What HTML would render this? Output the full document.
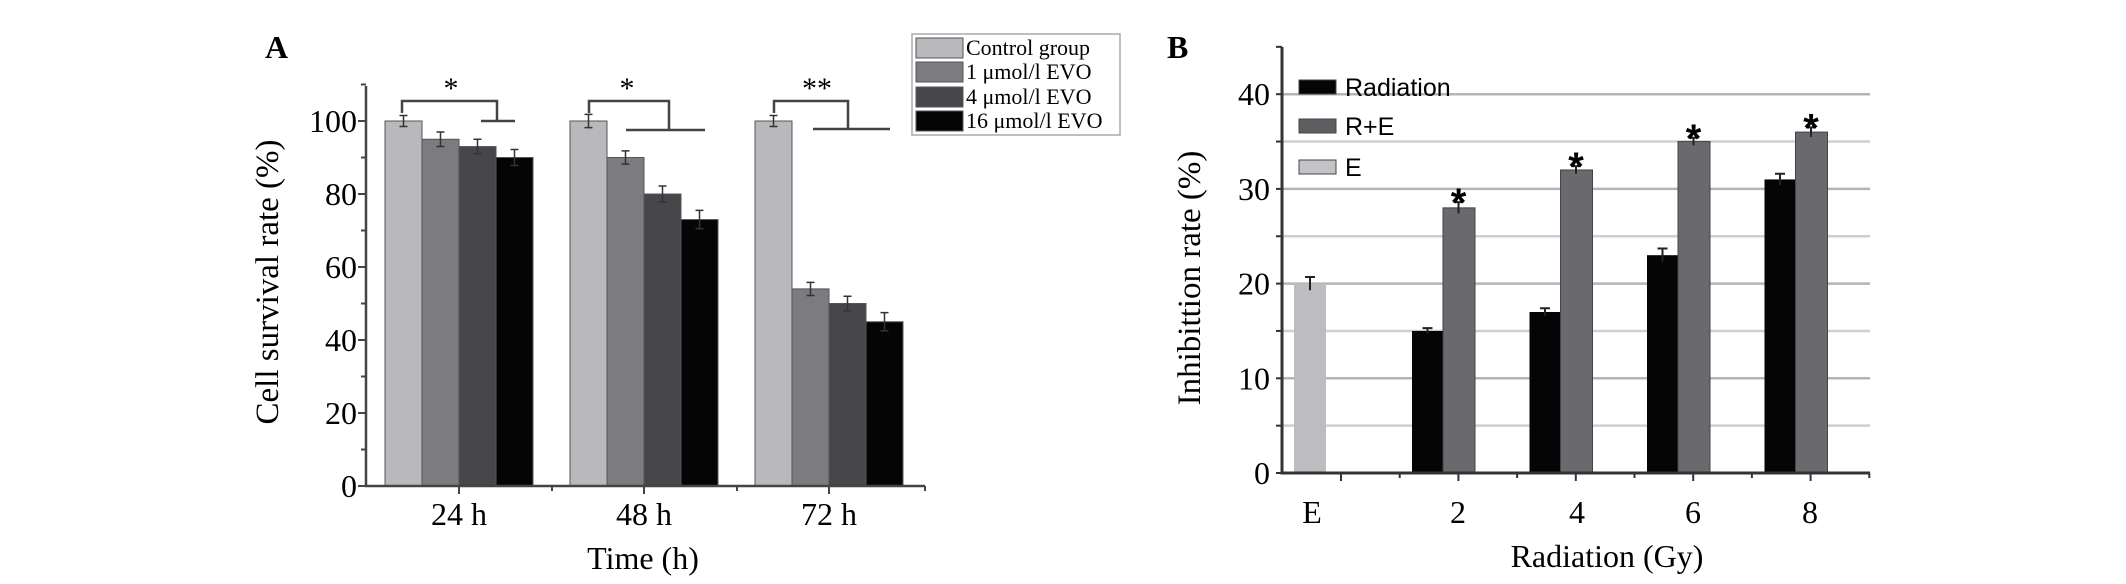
<!DOCTYPE html>
<html><head><meta charset="utf-8">
<style>
body{margin:0;background:#fff;}
svg{display:block;}
.serif{font-family:"Liberation Serif",serif;}
.sans{font-family:"Liberation Sans",sans-serif;}
</style></head>
<body>
<svg id="chart" width="2126" height="584" viewBox="0 0 2126 584" xmlns="http://www.w3.org/2000/svg">
</svg>
<script>
// Panel A data
const aCategories = ["24 h", "48 h", "72 h"];
const aSeriesNames = ["Control group", "1 μmol/l EVO", "4 μmol/l EVO", "16 μmol/l EVO"];
const aControl = [100, 100, 100];
const aEvo1 = [95, 90, 54];
const aEvo4 = [93, 80, 50];
const aEvo16 = [90, 73, 45];
const aErrors = [[1.5, 1.8, 1.5], [2, 1.8, 1.8], [2, 2.2, 2], [2.2, 2.5, 2.5]];
const aTicks = [0, 20, 40, 60, 80, 100];
const aSig = ["*", "*", "**"];
// Panel B data
const bCategories = ["E", "2", "4", "6", "8"];
const bE = [20];
const bRadiation = [15, 17, 23, 31];
const bRE = [28, 32, 35, 36];
const bRadErr = [0.3, 0.4, 0.7, 0.6];
const bREErr = [0.6, 0.4, 0.4, 0.5];
const bEErr = [0.7];
const bTicks = [0, 10, 20, 30, 40];

const svg = document.getElementById('chart');
const NS = 'http://www.w3.org/2000/svg';
function mk(tag, attrs, parent) {
  const e = document.createElementNS(NS, tag);
  for (const k in attrs) e.setAttribute(k, attrs[k]);
  (parent || svg).appendChild(e);
  return e;
}
function txt(s, attrs, parent) { const t = mk('text', attrs, parent); t.textContent = s; return t; }

// ---------- Panel A ----------
const gA = mk('g', {});


const aX0 = 366, aY0 = 486, aY100 = 121, aXEnd = 925, aTop = 86;
const ay = v => aY0 - (v / 100) * (aY0 - aY100);
const aGroupStart = i => 385 + i * 185;
const aBarW = 37;
const aColors = ["#b9b9bd", "#7b7b80", "#47474b", "#050505"];
const aSeries = [aControl, aEvo1, aEvo4, aEvo16];

const pA = txt('A', {x: 265, y: 58, 'font-size': 32, 'font-weight': 'bold', class: 'serif'}, gA);



aSeries.forEach((ser, s) => {
  ser.forEach((v, i) => {
    const x = aGroupStart(i) + s * aBarW;
    const r = mk('rect', {x: x, y: ay(v), width: aBarW, height: aY0 - ay(v), fill: aColors[s], stroke: '#555', 'stroke-width': 1}, gA);
    
    
    const e = aErrors[s][i], cx = x + aBarW / 2;
    const eb = mk('path', {d: `M${cx} ${ay(v + e)}V${ay(v - e)}M${cx - 4} ${ay(v + e)}H${cx + 4}M${cx - 4} ${ay(v - e)}H${cx + 4}`, stroke: '#333', 'stroke-width': 1.5, fill: 'none'}, gA);
    
    
  });
});
const axA = mk('path', {d: `M${aX0} ${aTop}V${aY0}H${aXEnd}`, stroke: '#444', 'stroke-width': 2.5, fill: 'none'}, gA);


for (let v = 0; v <= 110; v += 10) {
  const major = v % 20 === 0;
  mk('line', {x1: aX0 - (major ? 8 : 5), x2: aX0, y1: ay(v), y2: ay(v), stroke: '#444', 'stroke-width': 2}, gA);
}
aTicks.forEach(v => {
  const t = txt(String(v), {x: 357, y: ay(v) + 11, 'font-size': 32, 'text-anchor': 'end', class: 'serif'}, gA);
  
  
});
aCategories.forEach((c, i) => {
  const cx = aGroupStart(i) + 2 * aBarW;
  mk('line', {x1: cx, x2: cx, y1: aY0, y2: aY0 + 8, stroke: '#444', 'stroke-width': 2}, gA);
  if (i < 2) { const mx = aGroupStart(i) + 4 * aBarW + 19; mk('line', {x1: mx, x2: mx, y1: aY0, y2: aY0 + 5, stroke: '#444', 'stroke-width': 2}, gA); }
  const t = txt(c, {x: cx, y: 525, 'font-size': 32, 'text-anchor': 'middle', class: 'serif'}, gA);
  
  
});
mk('line', {x1: aXEnd, x2: aXEnd, y1: aY0, y2: aY0 + 5, stroke: '#444', 'stroke-width': 2}, gA);
const yA = txt('Cell survival rate (%)', {x: 0, y: 0, 'font-size': 33, 'text-anchor': 'middle', class: 'serif', transform: 'translate(278,282) rotate(-90)'}, gA);


const xA = txt('Time (h)', {x: 643, y: 569, 'font-size': 32, 'text-anchor': 'middle', class: 'serif'}, gA);



const brk = [
  {l: 402, r: 497, d: 121, h1: 481, h2: 515, sx: 451},
  {l: 589, r: 669, d: 130, h1: 626, h2: 705, sx: 627},
  {l: 774, r: 848, d: 129, h1: 813, h2: 890, sx: 817}
];
brk.forEach((b, i) => {
  const p = mk('path', {d: `M${b.l} 113V101H${b.r}V${b.d}M${b.h1} ${b.d}H${b.h2}`, stroke: '#444', 'stroke-width': 2.5, fill: 'none'}, gA);
  
  
  const s = txt(aSig[i], {x: b.sx, y: 98, 'font-size': 30, 'text-anchor': 'middle', class: 'serif'}, gA);
  
  
});

const lgA = mk('g', {}, gA);


mk('rect', {x: 912, y: 34, width: 208, height: 101, fill: '#fff', stroke: '#aaa', 'stroke-width': 1.5}, lgA);
const lRows = [48, 72, 97, 121];
aSeriesNames.forEach((n, s) => {
  const e = mk('g', {}, lgA);
  
  
  mk('rect', {x: 916, y: lRows[s] - 10, width: 47, height: 20, fill: aColors[s], stroke: '#555', 'stroke-width': 1}, e);
  txt(n, {x: 966, y: lRows[s] + 7, 'font-size': 22, class: 'serif'}, e);
});

// ---------- Panel B ----------
const gB = mk('g', {});


const bX0 = 1282, bY0 = 473, bXEnd = 1870, bTop = 47;
const by = v => bY0 - v * 9.47;
const bCenter = i => i === 0 ? 1310 : 1443 + (i - 1) * 117.5;
const bBarW = 31;

const pB = txt('B', {x: 1167, y: 58, 'font-size': 32, 'font-weight': 'bold', class: 'serif'}, gB);



for (let v = 5; v <= 40; v += 5) {
  const g = mk('line', {x1: bX0, x2: bXEnd, y1: by(v), y2: by(v), stroke: v % 10 === 0 ? '#b5b5b5' : '#cfcfcf', 'stroke-width': 2.5}, gB);
  
  
}
function errB(cx, v, e) {
  const p = mk('path', {d: `M${cx} ${by(v + e)}V${by(v - e)}M${cx - 5} ${by(v + e)}H${cx + 5}`, stroke: '#222', 'stroke-width': 2, fill: 'none'}, gB);
  
  
}
{
  const cx = bCenter(0);
  const r = mk('rect', {x: cx - 16, y: by(bE[0]), width: 32, height: bY0 - by(bE[0]), fill: '#bdbdc1'}, gB);
  
  
  errB(cx, bE[0], bEErr[0]);
}
bRadiation.forEach((v, i) => {
  const cx = bCenter(i + 1);
  const r = mk('rect', {x: cx - bBarW, y: by(v), width: bBarW, height: bY0 - by(v), fill: '#050505'}, gB);
  
  
  errB(cx - bBarW / 2, v, bRadErr[i]);
  const v2 = bRE[i];
  const r2 = mk('rect', {x: cx, y: by(v2), width: bBarW + 1, height: bY0 - by(v2), fill: '#69696e', stroke: '#444', 'stroke-width': 1}, gB);
  
  
  errB(cx + bBarW / 2, v2, bREErr[i]);
  const st = txt('*', {x: cx + bBarW / 2, y: by(v2 + bREErr[i]) + 14, 'font-size': 40, 'font-weight': 'bold', 'text-anchor': 'middle', class: 'sans'}, gB);
  
  
});
const axB = mk('path', {d: `M${bX0} ${bTop}V${bY0}H${bXEnd}`, stroke: '#333', 'stroke-width': 3, fill: 'none'}, gB);


for (let v = 0; v <= 45; v += 5) mk('line', {x1: bX0 - 6, x2: bX0, y1: by(v), y2: by(v), stroke: '#333', 'stroke-width': 2}, gB);
for (let k = 0; k < 10; k++) { const x = 1341 + k * 58.7; mk('line', {x1: x, x2: x, y1: bY0, y2: bY0 + (k % 2 === 0 ? 8 : 5), stroke: '#333', 'stroke-width': 2}, gB); }
bTicks.forEach(v => {
  const t = txt(String(v), {x: 1270, y: by(v) + 11, 'font-size': 32, 'text-anchor': 'end', class: 'serif'}, gB);
  
  
});
const bLabelX = [1312, 1458, 1577, 1693, 1810];
bCategories.forEach((c, i) => {
  const t = txt(c, {x: bLabelX[i], y: 523, 'font-size': 32, 'text-anchor': 'middle', class: 'serif'}, gB);
  
  
});
const yB = txt('Inhibittion rate (%)', {x: 0, y: 0, 'font-size': 33, 'text-anchor': 'middle', class: 'serif', transform: 'translate(1200,278) rotate(-90)'}, gB);


const xB = txt('Radiation (Gy)', {x: 1607, y: 567, 'font-size': 32, 'text-anchor': 'middle', class: 'serif'}, gB);



const lgB = mk('g', {}, gB);


const bLeg = [["Radiation", "#050505", 87], ["R+E", "#5e5e62", 126], ["E", "#c4c4c8", 167]];
bLeg.forEach(([n, c, yy]) => {
  const e = mk('g', {}, lgB);
  
  
  mk('rect', {x: 1299, y: yy - 7, width: 37, height: 14, fill: c, stroke: '#444', 'stroke-width': 1}, e);
  txt(n, {x: 1345, y: yy + 9, 'font-size': 25, class: 'sans'}, e);
});
</script>
</body></html>
